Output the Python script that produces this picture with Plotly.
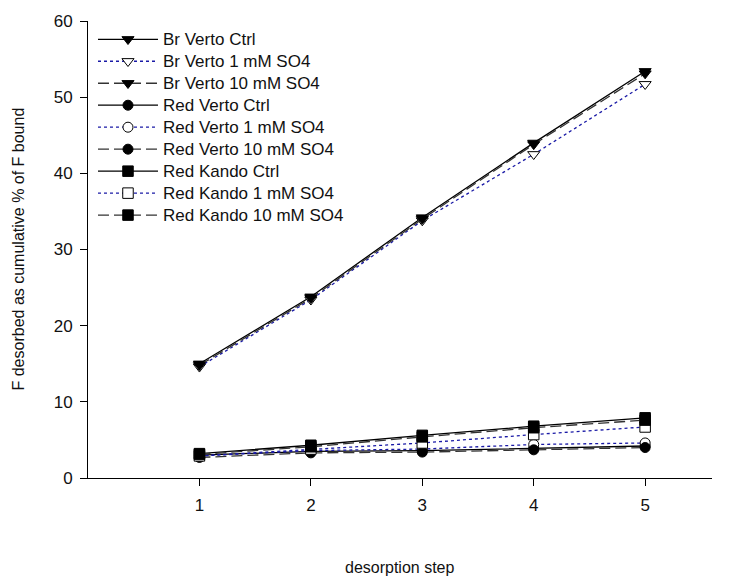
import plotly.graph_objects as go

# desorption steps
steps = [1, 2, 3, 4, 5]

# cumulative F desorbed, % of F bound
br_verto_ctrl = [15.0, 23.8, 34.2, 44.0, 53.4]
br_verto_1mm = [14.6, 23.4, 33.8, 42.5, 51.7]
br_verto_10mm = [14.8, 23.6, 34.0, 43.8, 53.1]
red_verto_ctrl = [3.0, 3.5, 3.6, 3.9, 4.2]
red_verto_1mm = [2.9, 3.6, 3.8, 4.4, 4.6]
red_verto_10mm = [2.7, 3.3, 3.4, 3.7, 4.0]
red_kando_ctrl = [3.2, 4.3, 5.6, 6.8, 7.9]
red_kando_1mm = [2.9, 3.8, 4.6, 5.7, 6.7]
red_kando_10mm = [3.1, 4.1, 5.4, 6.6, 7.6]

series_names = [
    "Br Verto Ctrl", "Br Verto 1 mM SO4", "Br Verto 10 mM SO4",
    "Red Verto Ctrl", "Red Verto 1 mM SO4", "Red Verto 10 mM SO4",
    "Red Kando Ctrl", "Red Kando 1 mM SO4", "Red Kando 10 mM SO4",
]
series_values = [
    br_verto_ctrl, br_verto_1mm, br_verto_10mm,
    red_verto_ctrl, red_verto_1mm, red_verto_10mm,
    red_kando_ctrl, red_kando_1mm, red_kando_10mm,
]

symbols = ["triangle-down"] * 3 + ["circle"] * 3 + ["square"] * 3
sizes = [10.5] * 3 + [10] * 3 + [10.5] * 3

# treatment styles: Ctrl solid, 1 mM dotted blue with open marker, 10 mM dashed
line_styles = [
    dict(color="black", width=1.3, dash="solid"),
    dict(color="#1a1aa6", width=1.3, dash="dot"),
    dict(color="#333333", width=1.3, dash="11px,5px"),
]
marker_fills = ["black", "white", "black"]

fig = go.Figure()
for i, (name, vals) in enumerate(zip(series_names, series_values)):
    k = i % 3
    fig.add_trace(go.Scatter(
        x=steps, y=vals, mode="lines+markers",
        # legend rows keep a compact pitch while the label text is larger
        name=f'<span style="font-size:17px">{name}</span>',
        line=line_styles[k],
        marker=dict(symbol=symbols[i], size=sizes[i], color=marker_fills[k],
                    line=dict(color="black", width=1)),
    ))

font_family = "Liberation Sans, Arial, sans-serif"

fig.update_layout(
    width=744, height=581,
    margin=dict(l=88, r=32, t=21, b=103),
    paper_bgcolor="white", plot_bgcolor="white",
    font=dict(family=font_family, size=16, color="#111111"),
    showlegend=True,
    legend=dict(
        x=0.008, y=0.995, xanchor="left", yanchor="top",
        bgcolor="rgba(0,0,0,0)", borderwidth=0,
        font=dict(family=font_family, size=14.6, color="#111111"),
        itemwidth=60, tracegroupgap=0,
    ),
    xaxis=dict(
        range=[0, 5.6], tickvals=steps, ticks="outside", ticklen=7,
        tickwidth=1, tickcolor="black", showline=True, linecolor="black",
        linewidth=1, showgrid=False, zeroline=False,
        tickfont=dict(size=17), ticklabelstandoff=5,
    ),
    yaxis=dict(
        range=[0, 60], dtick=10, ticks="outside", ticklen=7,
        tickwidth=1, tickcolor="black", showline=True, linecolor="black",
        linewidth=1, showgrid=False, zeroline=False,
        tickfont=dict(size=17), ticklabelstandoff=4,
    ),
    annotations=[
        dict(text="desorption step", xref="paper", yref="paper",
             x=0.5, y=0, yshift=-89, xanchor="center", yanchor="middle",
             showarrow=False, font=dict(size=16)),
        dict(text="F desorbed as cumulative % of F bound", xref="paper",
             yref="paper", x=0, xshift=-70, y=0.5, xanchor="center",
             yanchor="middle", textangle=-90, showarrow=False,
             font=dict(size=16)),
    ],
)

fig.write_html("out.html")
